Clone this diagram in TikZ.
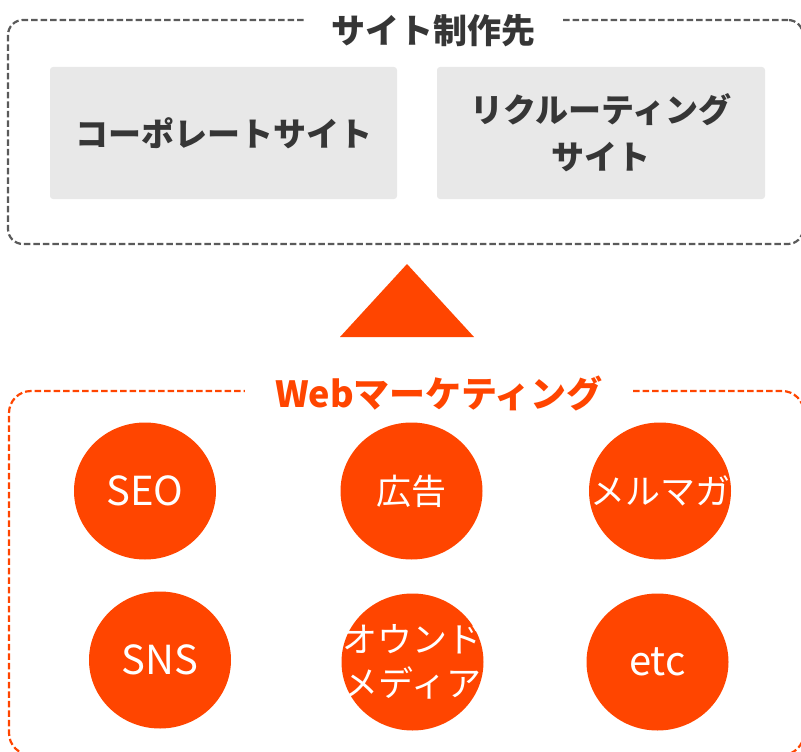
\documentclass[tikz,border=0pt]{standalone}
\usepackage{fontspec}
\newfontfamily\jp{Noto Sans CJK JP}
\usetikzlibrary{shapes.geometric}
\definecolor{mkorange}{HTML}{FF4500}
\definecolor{boxgray}{HTML}{E8E8E8}
\definecolor{txtgray}{HTML}{363636}
\definecolor{dashgray}{HTML}{5A5A5A}
\begin{document}
\begin{tikzpicture}[x=1pt,y=-1pt,
  groupbox/.style={line width=2.2pt, dash pattern=on 6.5pt off 3pt, inner sep=0pt, outer sep=0pt},
  grouptitle/.style={fill=white, inner sep=0pt, minimum height=40pt, font=\jp\bfseries\fontsize{34}{40}\selectfont},
  sitebox/.style={fill=boxgray, rounded corners=3pt, inner sep=0pt, text=txtgray, font=\jp\bfseries\fontsize{33}{47}\selectfont, align=center, minimum height=132pt},
  channel/.style={ellipse, fill=mkorange, minimum width=142pt, minimum height=137pt, inner sep=0pt},
  channeltext/.style={inner sep=0pt, text=white, font=\jp\fontsize{35}{44}\selectfont, align=center},
  latintext/.style={channeltext, font=\jp\fontsize{40}{44}\selectfont},
]
\useasboundingbox (0,0) rectangle (801,752);
% top group
\node[draw=dashgray, groupbox, rounded corners=15pt, minimum width=795pt, minimum height=224pt] (sitegroup) at (405.5,132) {};
\node[grouptitle, text=txtgray, minimum width=257pt] (sitetitle) at (433.5,31) {サイト制作先};
\node[sitebox, minimum width=347pt] (corp) at (223.5,133) {コーポレートサイト};
\node[sitebox, minimum width=328pt] (recruit) at (601,133) {リクルーティング\\サイト};
% arrow triangle
\fill[mkorange] (407,264) -- (474,337) -- (340,337) -- cycle;
% bottom group
\node[draw=mkorange, groupbox, rounded corners=22pt, minimum width=795pt, minimum height=364pt] (mkgroup) at (406.5,573) {};
\node[grouptitle, text=mkorange, minimum width=388pt, font=\jp\bfseries\fontsize{36}{40}\selectfont] (mktitle) at (439,393) {Webマーケティング};
% channels
\node[channel] (seo) at (145,491) {};
\node[latintext] (seot) at (seo) {SEO};
\node[channel] (ad) at (411.5,491) {};
\node[channeltext] (adt) at (ad) {広告};
\node[channel] (mail) at (660,491) {};
\node[channeltext] (mailt) at (mail) {メルマガ};
\node[channel] (sns) at (160,660) {};
\node[latintext] (snst) at (sns) {SNS};
\node[channel] (owned) at (412.5,662) {};
\node[channeltext] (ownedt) at (owned) {オウンド\\メディア};
\node[channel] (etc) at (657.5,662) {};
\node[latintext] (etct) at (etc) {etc};
\end{tikzpicture}
\end{document}
